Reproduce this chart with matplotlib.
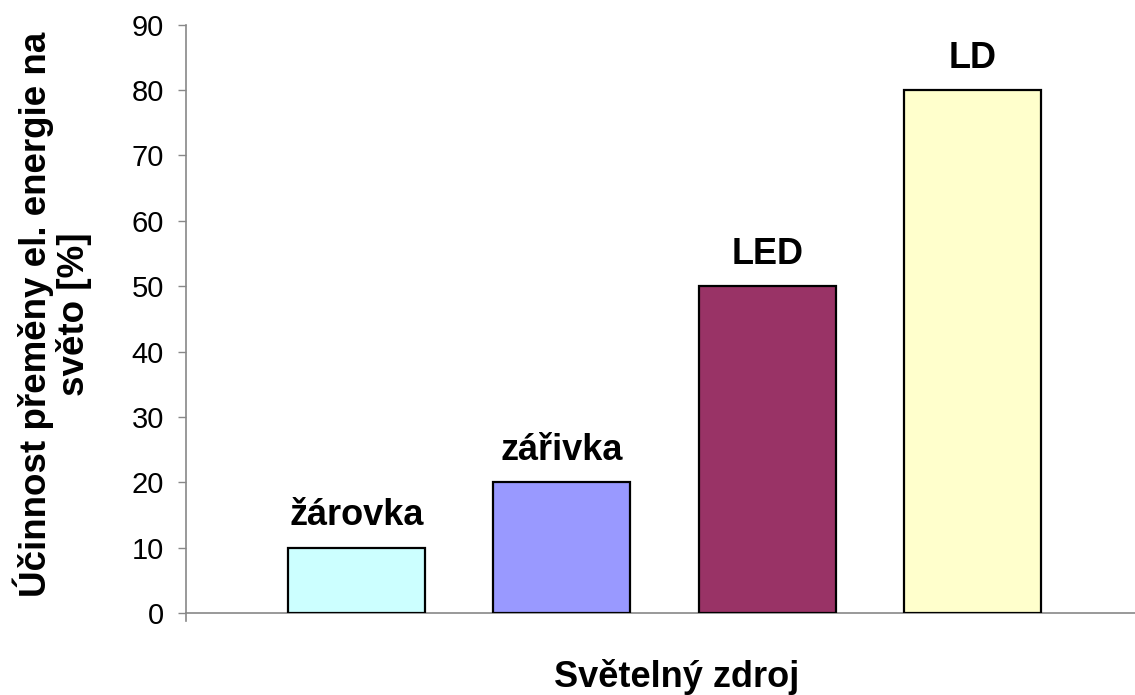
import matplotlib.pyplot as plt
from matplotlib.lines import Line2D

plt.rcParams['font.family'] = ['Liberation Sans', 'DejaVu Sans']

sources = ['žárovka', 'zářivka', 'LED', 'LD']
efficiency = [10, 20, 50, 80]
colors = ['#CCFFFF', '#9999FF', '#993366', '#FFFFCC']
yticks = list(range(0, 91, 10))

fig = plt.figure(figsize=(11.35, 6.95), dpi=100)
ax = fig.add_axes([0.1639, 0.118, 0.8361, 0.8465])

x = list(range(len(sources)))
bars = ax.bar(x, efficiency, width=0.667, color=colors,
              edgecolor='black', linewidth=1.6, zorder=3)

for xi, val, name in zip(x, efficiency, sources):
    ax.annotate(name, (xi, val), xytext=(0, 16), textcoords='offset points',
                ha='center', va='baseline', fontsize=26, fontweight='bold')

ax.set_xlim(-0.83, 3.79)
ax.set_ylim(0, 90)
ax.set_yticks(yticks)
ax.set_xticks([])
ax.tick_params(axis='y', labelsize=21, length=6, width=1, color='#888888',
               direction='out', pad=10)

for side in ('top', 'right'):
    ax.spines[side].set_visible(False)
for side in ('left', 'bottom'):
    ax.spines[side].set_color('#888888')
    ax.spines[side].set_linewidth(1.2)

# short stub of the left axis below zero, like the category divider
ax.add_line(Line2D([0, 0], [0, -0.014], transform=ax.transAxes,
                   color='#888888', linewidth=1.2, clip_on=False))

fig.text(0.046, 0.548, 'Účinnost přeměny el. energie na\nsvěto [%]',
         rotation=90, ha='center', va='center', multialignment='center',
         fontsize=26.5, fontweight='bold', linespacing=1.05)
fig.text(0.596, 0.0115, 'Světelný zdroj', ha='center', va='baseline',
         fontsize=26, fontweight='bold')

fig.savefig('out.png', dpi=100)
